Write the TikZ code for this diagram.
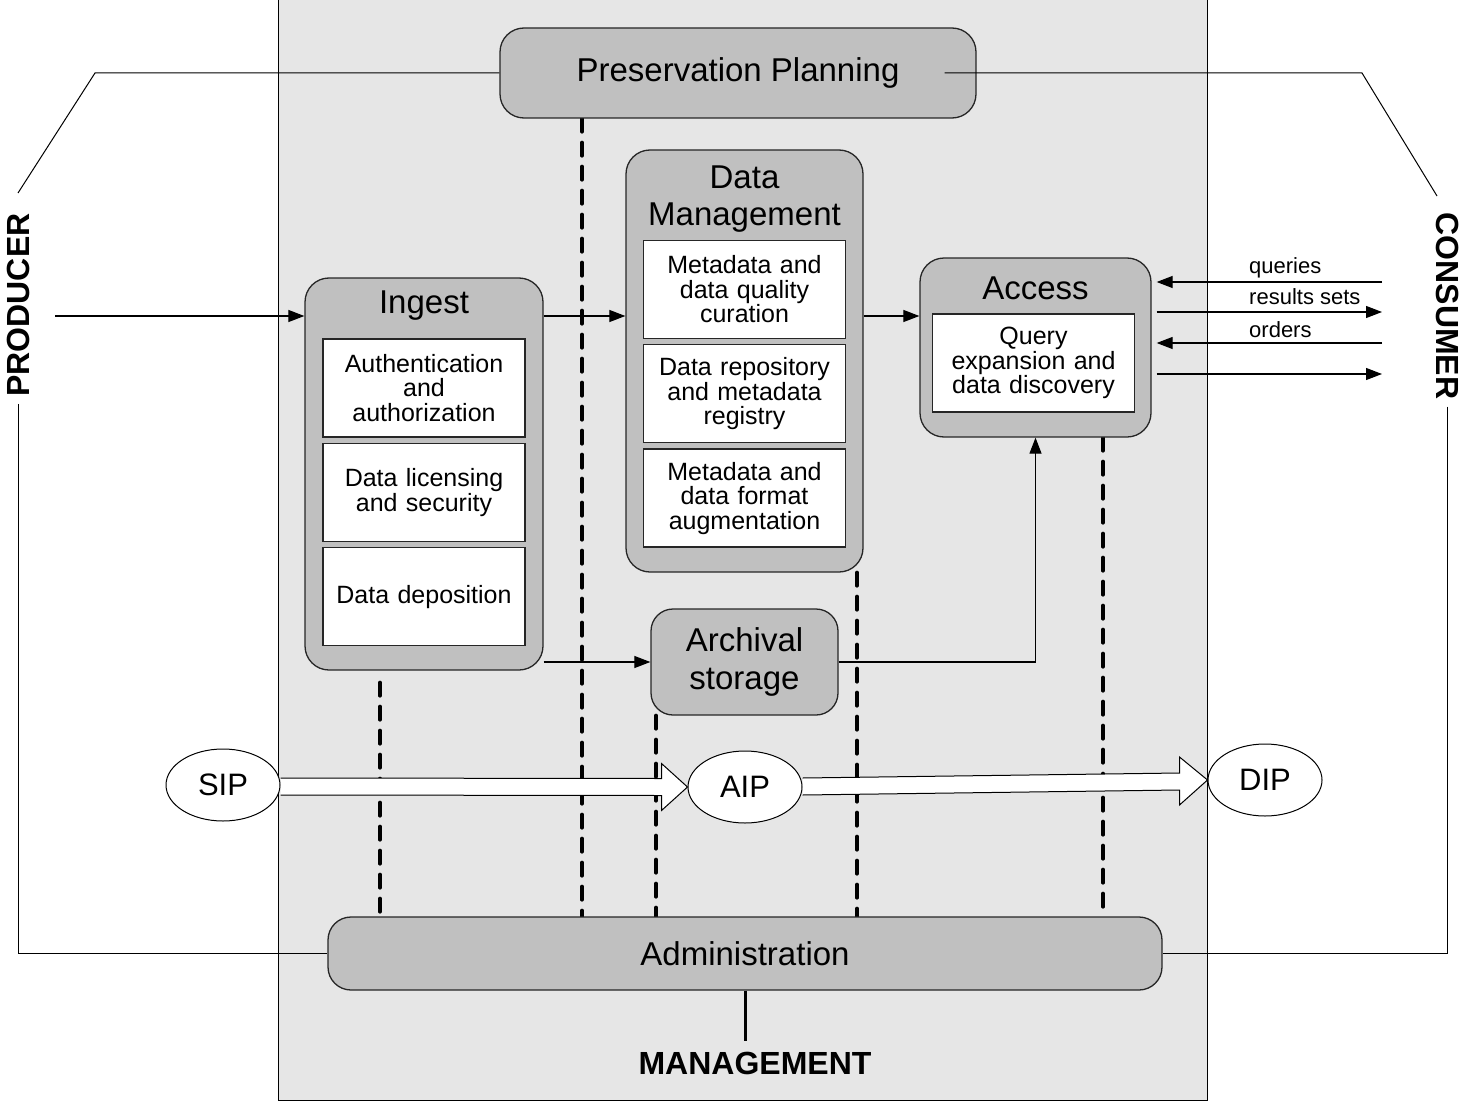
\documentclass[tikz,border=0pt]{standalone}
\usepackage{fontspec}
\setmainfont{Liberation Sans}
\usepackage{tikz}
\usetikzlibrary{arrows.meta, positioning, shapes.geometric, calc}
\definecolor{framegrey}{RGB}{230,230,230}
\definecolor{boxgrey}{RGB}{192,192,192}
\pgfdeclarelayer{frame}
\pgfdeclarelayer{pipes}
\pgfsetlayers{frame,pipes,main}
\tikzset{
	func/.style={draw=black!85, fill=boxgrey, rounded corners=24pt, line width=1.3pt,
		inner sep=0pt, align=center, font=\fontsize{33}{38}\selectfont},
	boxtitle/.style={align=center, inner sep=0pt, font=\fontsize{33}{37}\selectfont},
	subbox/.style={draw=black!85, fill=white, line width=1.3pt, align=center,
		text width=190pt, inner xsep=6pt, inner ysep=0pt, minimum height=98pt,
		font=\fontsize{25}{24.5}\selectfont},
	infopkg/.style={ellipse, draw, fill=white, line width=1pt, inner sep=0pt,
		minimum width=114pt, minimum height=72pt, font=\fontsize{31}{31}\selectfont},
	flow/.style={->, line width=1.2pt},
	link/.style={line width=1pt},
	mgmtline/.style={line width=4pt, dash pattern=on 13pt off 11pt, line cap=round},
	bigflow/.style={draw, fill=white, line width=1pt, line join=miter},
	actor/.style={inner sep=0pt, font=\fontsize{32}{32}\selectfont\bfseries},
	msglabel/.style={anchor=west, inner sep=0pt, font=\fontsize{22}{22}\selectfont},
	>={Triangle[length=16pt,width=12pt]}
}

\begin{document}
\begin{tikzpicture}[x=1pt, y=-1pt]
	\useasboundingbox (0,0) rectangle (1463,1102);

	% the archive frame
	\begin{pgfonlayer}{frame}
		\draw[fill=framegrey, line width=1pt] (278,-2) rectangle (1207,1100);
	\end{pgfonlayer}

	% the functional entities
	\node[func, minimum width=476pt, minimum height=90pt] (pp) at (738,73) {Preservation Planning};

	\node[func, minimum width=238pt, minimum height=392pt] (ingest) at (424,474) {};
	\node[boxtitle] (ingesttitle) at (424,306) {Ingest};
	\node[subbox] (auth) at (424,388) {Authentication\\and\\authorization};
	\node[subbox, below=5pt of auth] (licence) {Data licensing\\and security};
	\node[subbox, below=5pt of licence] (deposit) {Data deposition};

	\node[func, minimum width=237pt, minimum height=422pt] (dm) at (744.5,361) {};
	\node[boxtitle] (dmtitle) at (744.5,199) {Data\\Management};
	\node[subbox] (curation) at (744.5,289.5) {Metadata and\\data quality\\curation};
	\node[subbox, below=5pt of curation] (registry) {Data repository\\and metadata\\registry};
	\node[subbox, below=5pt of registry] (augment) {Metadata and\\data format\\augmentation};

	\node[func, minimum width=231pt, minimum height=179pt] (access) at (1035.5,347.5) {};
	\node[boxtitle] (accesstitle) at (1035.5,288) {Access};
	\node[subbox] (query) at (1033.5,363) {Query\\expansion and\\data discovery};

	\node[func, minimum width=187pt, minimum height=106pt, rounded corners=22pt] (archival) at (744.5,662) {Archival\\storage};

	\node[func, minimum width=834pt, minimum height=73pt, rounded corners=23pt] (admin) at (745,953.5) {Administration};
	\node[actor] (mgmt) at (755,1063) {MANAGEMENT};

	% producer and consumer
	\node[actor, rotate=90] (producer) at (18,305) {PRODUCER};
	\node[actor, rotate=-90] (consumer) at (1447,306) {CONSUMER};
	\coordinate (prodtop) at (18,193);
	\coordinate (constop) at (1437,196);
	\draw[link] (prodtop) -- (95,73) -- (pp.west);
	\draw[link] ($(pp.east)+(-32,0)$) -- (1362,73) -- (constop);
	\draw[link, shorten <=7pt] (producer.west) |- (admin.west);
	\draw[link, shorten <=7pt] (consumer.east) |- (admin.east);

	% the data flows
	\coordinate (prodout) at (55,316);
	\draw[flow] (prodout) -- (prodout -| ingest.west);
	\draw[flow] (ingest.east |- prodout) -- (dm.west |- prodout);
	\draw[flow] (dm.east |- prodout) -- (access.west |- prodout);
	\draw[flow] (ingest.east |- archival) -- (archival.west);
	\draw[flow] (archival.east) -| (access.south);

	\foreach \y/\name in {282/c1, 312/c2, 343/c3, 374/c4}
		\coordinate (\name) at (1382,\y);
	\draw[flow, shorten >=5pt] (c1) -- (c1 -| access.east);
	\draw[flow, shorten <=5pt] (c2 -| access.east) -- (c2);
	\draw[flow, shorten >=5pt] (c3) -- (c3 -| access.east);
	\draw[flow, shorten <=5pt] (c4 -| access.east) -- (c4);
	\node[msglabel] (lblqueries) at (1249,268) {queries};
	\node[msglabel] (lblresults) at (1249,297) {results sets};
	\node[msglabel] (lblorders) at (1249,330) {orders};

	% the information packages
	\node[infopkg] (sip) at (223,785) {SIP};
	\node[infopkg] (aip) at (745,787) {AIP};
	\node[infopkg] (dip) at (1265,780) {DIP};

	\begin{pgfonlayer}{pipes}
		% management links
		\draw[mgmtline, shorten <=12pt] (380,0 |- ingest.south) -- (380,0 |- admin.north);
		\foreach \x/\from in {582/pp, 656/archival, 857/dm, 1103/access}
			\draw[mgmtline] (\x,0 |- \from.south) -- (\x,0 |- admin.north);

		% package flow
		\draw[bigflow] ($(sip.east)+(0,-7)$) -- ($(aip.west)+(-26,-8.5)$) -- ($(aip.west)+(-26,-23.5)$)
			-- (aip.west) -- ($(aip.west)+(-26,23.5)$) -- ($(aip.west)+(-26,8.5)$) -- ($(sip.east)+(0,10)$);
		\draw[bigflow] ($(aip.east)+(0,-9)$) -- ($(dip.west)+(-28,-7)$) -- ($(dip.west)+(-28,-23)$)
			-- (dip.west) -- ($(dip.west)+(-28,25)$) -- ($(dip.west)+(-28,10)$) -- ($(aip.east)+(0,8)$);
	\end{pgfonlayer}

	\draw[line width=3pt, shorten >=10pt] (admin.south) -- (admin.south |- mgmt.north);
\end{tikzpicture}
\end{document}
